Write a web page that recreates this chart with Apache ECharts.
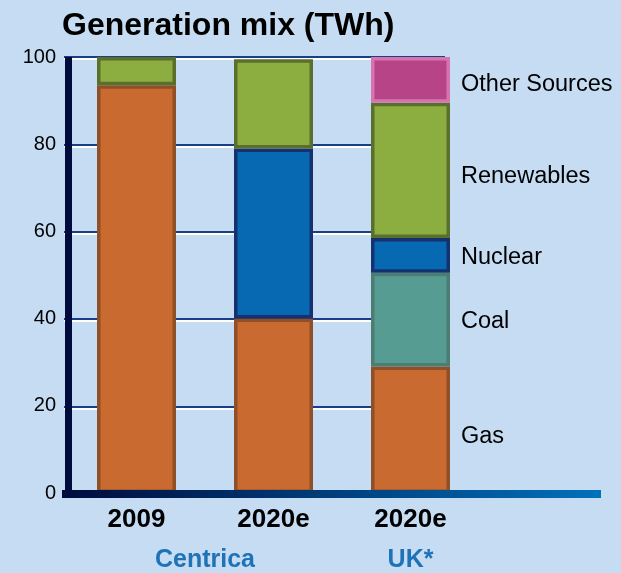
<!DOCTYPE html>
<html>
<head>
<meta charset="utf-8">
<script src="https://cdn.jsdelivr.net/npm/echarts@6/dist/echarts.min.js"></script>
<style>
  html, body { margin: 0; padding: 0; background: #c6dcf3; }
  #chart { width: 621px; height: 573px; }
</style>
</head>
<body>
<div id="chart"></div>
<script>
// Categories along the bottom and the groups they belong to
const categories = ['2009', '2020e', '2020e'];
const groupNames = ['Centrica', 'UK*'];
const groupSpans = [[0, 1], [2, 2]];

// Generation mix per category (TWh share), stacked bottom to top
const gas = [93.5, 40, 29];
const coal = [null, null, 21.5];
const nuclear = [null, 39, 8];
const renewables = [6.5, 20.5, 31];
const other = [null, null, 10.5];

const seriesNames = ['Gas', 'Coal', 'Nuclear', 'Renewables', 'Other Sources'];
const seriesValues = [gas, coal, nuclear, renewables, other];

// Value axis
const yMin = 0, yMax = 100, yStep = 20;

// Source names are written beside this bar
const labelledIndex = 2;

const FONT = "'Liberation Sans', Arial, sans-serif";

const styles = {
  'Gas':           { color: '#c96a30', border: '#8f4f27', dy: 7 },
  'Coal':          { color: '#579c93', border: '#4b7d73', dy: 2 },
  'Nuclear':       { color: '#0669b2', border: '#15316f', dy: 2 },
  'Renewables':    { color: '#8cae41', border: '#5b6f2c', dy: 6 },
  'Other Sources': { color: '#b74487', border: '#d574ae', dy: 5 }
};

const groupCenters = groupSpans.map(s => (s[0] + s[1]) / 2);

const chart = echarts.init(document.getElementById('chart'), null, { renderer: 'canvas' });

const series = seriesNames.map((name, k) => {
  const st = styles[name];
  return {
    name: name,
    type: 'bar',
    stack: 'mix',
    xAxisIndex: 0,
    yAxisIndex: 0,
    barWidth: 79,
    itemStyle: { color: st.color, borderColor: st.border, borderWidth: 3.5 },
    label: {
      show: false,
      position: 'right',
      distance: 11,
      formatter: '{a}',
      fontFamily: FONT,
      fontSize: 23.5,
      color: '#000',
      offset: [0, st.dy]
    },
    data: seriesValues[k].map((v, i) => i === labelledIndex && v != null
      ? { value: v, label: { show: true } }
      : v)
  };
});

// Horizontal rule drawn twice: a white line and a dark line just above it
function ruleAxis(gridIndex, color) {
  return {
    type: 'value',
    gridIndex: gridIndex,
    min: yMin, max: yMax, interval: yStep,
    axisLine: { show: false },
    axisTick: { show: false },
    axisLabel: { show: false },
    splitLine: { show: true, lineStyle: { color: color, width: 2 } }
  };
}
function hiddenX(gridIndex) {
  return {
    type: 'value',
    gridIndex: gridIndex,
    min: 0, max: 1,
    axisLine: { show: false },
    axisTick: { show: false },
    axisLabel: { show: false },
    splitLine: { show: false }
  };
}

chart.setOption({
  backgroundColor: '#c6dcf3',
  animation: false,
  title: {
    text: 'Generation mix (TWh)',
    left: 62,
    top: 10,
    padding: 0,
    textStyle: { fontFamily: FONT, fontSize: 32, fontWeight: 'bold', color: '#000' }
  },
  grid: [
    // bars
    { left: 68, top: 57, width: 411, bottom: 79 },
    // white under-rules
    { left: 64, top: 59, right: 176, bottom: 77 },
    // dark rules
    { left: 64, top: 57, right: 176, bottom: 79 },
    // baseline
    { left: 62, top: 57, right: 20, bottom: 79 }
  ],
  xAxis: [
    {
      type: 'category',
      gridIndex: 0,
      data: categories,
      axisLine: { show: false },
      axisTick: { show: false },
      axisLabel: { fontFamily: FONT, fontSize: 26, fontWeight: 'bold', color: '#000', margin: 14 }
    },
    {
      type: 'value',
      gridIndex: 0,
      position: 'bottom',
      min: -0.5,
      max: categories.length - 0.5,
      axisLine: { show: false, onZero: false },
      axisTick: { show: false },
      splitLine: { show: false },
      axisLabel: {
        customValues: groupCenters,
        formatter: v => {
          const idx = groupCenters.findIndex(c => Math.abs(c - v) < 1e-6);
          return idx >= 0 ? groupNames[idx] : '';
        },
        fontFamily: FONT, fontSize: 25, fontWeight: 'bold', color: '#1d72b8', margin: 55
      }
    },
    hiddenX(1),
    hiddenX(2),
    {
      type: 'value',
      gridIndex: 3,
      min: 0, max: 1,
      z: 6,
      axisLine: {
        show: true,
        lineStyle: {
          width: 8,
          cap: 'butt',
          color: new echarts.graphic.LinearGradient(0, 0, 1, 0, [
            { offset: 0, color: '#000a3c' },
            { offset: 1, color: '#0072bb' }
          ])
        }
      },
      axisTick: { show: false },
      axisLabel: { show: false },
      splitLine: { show: false }
    }
  ],
  yAxis: [
    {
      type: 'value',
      gridIndex: 0,
      min: yMin, max: yMax, interval: yStep,
      z: 5,
      axisLine: { show: true, onZero: false, lineStyle: { color: '#000a3c', width: 7, cap: 'butt' } },
      axisTick: { show: false },
      splitLine: { show: false },
      axisLabel: { fontFamily: FONT, fontSize: 20, color: '#000', margin: 12 }
    },
    ruleAxis(1, '#ffffff'),
    ruleAxis(2, '#1b3f87'),
    {
      type: 'value',
      gridIndex: 3,
      show: false,
      min: yMin, max: yMax
    }
  ],
  series: series
});
</script>
</body>
</html>
